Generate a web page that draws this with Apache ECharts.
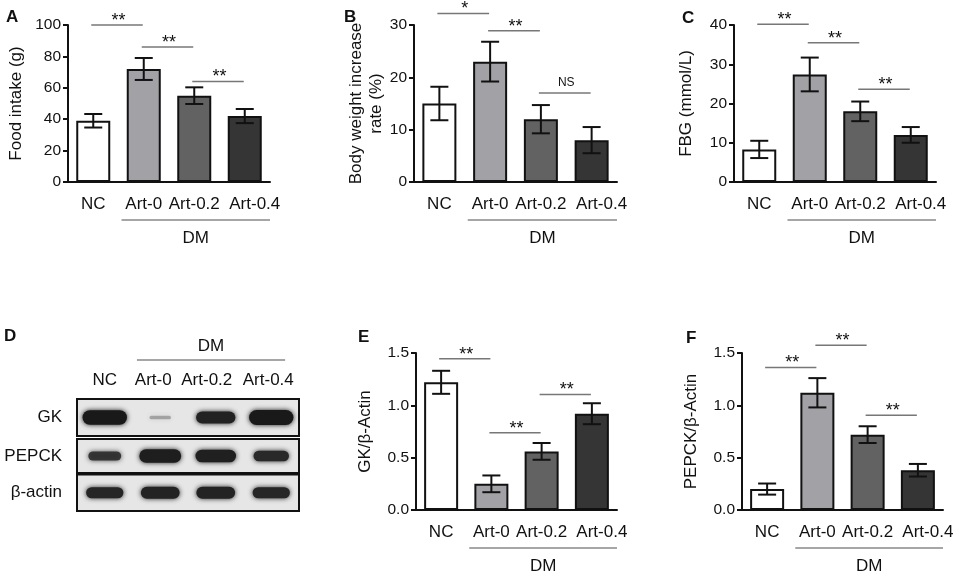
<!DOCTYPE html>
<html>
<head>
<meta charset="utf-8">
<script src="https://cdn.jsdelivr.net/npm/echarts@6/dist/echarts.min.js"></script>
<style>
  html, body { margin: 0; padding: 0; background: #fff; }
  #graph { width: 957px; height: 574px; }
</style>
</head>
<body>
<div id="graph"></div>
<script>
// groups
const groups = ['NC', 'Art-0', 'Art-0.2', 'Art-0.4']
const barColors = ['#ffffff', '#a2a2a6', '#626262', '#353535']

// A: food intake (g)
const foodMean = [39, 72, 55, 42]
const foodErr = [4.3, 7, 5.3, 4.5]
const foodSig = [[0, 1, 100], [1, 2, 86], [2, 3, 64]]
const foodSigText = ['**', '**', '**']

// B: body weight increase rate (%)
const weightMean = [15, 23, 12, 8]
const weightErr = [3.2, 3.8, 2.7, 2.5]
const weightSig = [[0, 1, 32.2], [1, 2, 28.9], [2, 3, 17]]
const weightSigText = ['*', '**', 'NS']

// C: FBG (mmol/L)
const fbgMean = [8.3, 27.4, 18, 12]
const fbgErr = [2.2, 4.3, 2.5, 2]
const fbgSig = [[0, 1, 40.2], [1, 2, 35.5], [2, 3, 23.6]]
const fbgSigText = ['**', '**', '**']

// E: GK / beta-actin
const gkMean = [1.22, 0.25, 0.56, 0.92]
const gkErr = [0.11, 0.08, 0.08, 0.1]
const gkSig = [[0, 1, 1.445], [1, 2, 0.737], [2, 3, 1.104]]
const gkSigText = ['**', '**', '**']

// F: PEPCK / beta-actin
const pepckMean = [0.2, 1.12, 0.72, 0.38]
const pepckErr = [0.053, 0.14, 0.08, 0.06]
const pepckSig = [[0, 1, 1.362], [1, 2, 1.573], [2, 3, 0.906]]
const pepckSigText = ['**', '**', '**']

// D: western blot band densities (relative)
const blotRows = ['GK', 'PEPCK', 'β-actin']
const gkBands = [1.0, 0.1, 0.8, 1.05]
const pepckBands = [0.55, 0.9, 0.85, 0.65]
const actinBands = [0.72, 0.78, 0.78, 0.72]

const FONT = "'Liberation Sans', Arial, Helvetica, sans-serif"
const INK = '#111'

const dom = document.getElementById('graph')
const chart = echarts.init(dom, null, { renderer: 'canvas' })

function errorRender (params, api) {
  const x = api.value(0)
  const lo = api.coord([x, api.value(1)])
  const hi = api.coord([x, api.value(2)])
  const hw = 9
  const style = { stroke: INK, lineWidth: 2 }
  return {
    type: 'group',
    children: [
      { type: 'line', shape: { x1: lo[0], y1: lo[1], x2: hi[0], y2: hi[1] }, style },
      { type: 'line', shape: { x1: hi[0] - hw, y1: hi[1], x2: hi[0] + hw, y2: hi[1] }, style },
      { type: 'line', shape: { x1: lo[0] - hw, y1: lo[1], x2: lo[0] + hw, y2: lo[1] }, style }
    ]
  }
}

function sigRender (labels) {
  return function (params, api) {
    const a = api.coord([api.value(0), api.value(2)])
    const b = api.coord([api.value(1), api.value(2)])
    const txt = labels[params.dataIndex]
    const isNS = txt === 'NS'
    return {
      type: 'group',
      children: [
        { type: 'line', shape: { x1: a[0] - 2, y1: a[1], x2: b[0] - 1, y2: b[1] }, style: { stroke: '#777', lineWidth: 1.5 } },
        {
          type: 'text',
          style: {
            text: txt,
            x: (a[0] + b[0]) / 2,
            y: a[1] - (isNS ? 10 : 4),
            align: 'center',
            verticalAlign: 'middle',
            font: (isNS ? '12px ' : '18px ') + FONT,
            fill: INK
          }
        }
      ]
    }
  }
}

// "DM" group bracket under categories 1..3
function dmRender (params, api) {
  const bw = api.size([1, 0])[0]
  const p1 = api.coord([1, 0])
  const p3 = api.coord([3, 0])
  const x1 = p1[0] - bw / 2 + 3
  const x2 = p3[0] + bw / 2
  const y = p1[1] + 38
  return {
    type: 'group',
    children: [
      { type: 'line', shape: { x1, y1: y, x2, y2: y }, style: { stroke: '#888', lineWidth: 1.5 } },
      { type: 'text', style: { text: 'DM', x: (x1 + x2) / 2, y: y + 18, align: 'center', verticalAlign: 'middle', font: '17px ' + FONT, fill: INK } }
    ]
  }
}

const grids = [
  { left: 68, top: 25, width: 202, height: 157 },   // A
  { left: 414, top: 25, width: 203, height: 157 },  // B
  { left: 734, top: 25, width: 202, height: 157 },  // C
  { left: 416, top: 353, width: 201, height: 157 }, // E
  { left: 742, top: 353, width: 201, height: 157 }  // F
]
const blotGrids = [
  { left: 77, top: 399, width: 222, height: 37 },
  { left: 77, top: 439, width: 222, height: 34 },
  { left: 77, top: 474.5, width: 222, height: 36.5 }
]

const panels = [
  { mean: foodMean, err: foodErr, sig: foodSig, sigText: foodSigText, max: 100, interval: 20, name: 'Food intake (g)', gap: 42, dec: 0 },
  { mean: weightMean, err: weightErr, sig: weightSig, sigText: weightSigText, max: 30, interval: 10, name: 'Body weight increase\nrate (%)', gap: 27, dec: 0 },
  { mean: fbgMean, err: fbgErr, sig: fbgSig, sigText: fbgSigText, max: 40, interval: 10, name: 'FBG (mmol/L)', gap: 38, dec: 0 },
  { mean: gkMean, err: gkErr, sig: gkSig, sigText: gkSigText, max: 1.5, interval: 0.5, name: 'GK/β-Actin', gap: 41, dec: 1 },
  { mean: pepckMean, err: pepckErr, sig: pepckSig, sigText: pepckSigText, max: 1.5, interval: 0.5, name: 'PEPCK/β-Actin', gap: 41, dec: 1 }
]

// the last label sits a little right of its slot, as in the figure
const barCats = groups.map((g, k) => k === 3 ? { value: g, textStyle: { padding: [0, 0, 0, 20] } } : g)
// lane labels above the blot are set a little left of the lanes
const laneShift = [0, 14, 18, 6]
const laneCats = groups.map((g, k) => ({ value: g, textStyle: { padding: [0, laneShift[k], 0, 0] } }))

const option = {
  animation: false,
  backgroundColor: '#fff',
  textStyle: { fontFamily: FONT },
  title: [
    { text: 'A', left: 1, top: 4 },
    { text: 'B', left: 339, top: 4 },
    { text: 'C', left: 677, top: 5 },
    { text: 'D', left: -1, top: 323 },
    { text: 'E', left: 353, top: 324 },
    { text: 'F', left: 681, top: 325 }
  ].map(t => Object.assign(t, { textStyle: { fontSize: 17, fontWeight: 'bold', color: INK, fontFamily: FONT } })),
  grid: grids.concat(blotGrids.map(g => Object.assign({}, g, {
    show: true, backgroundColor: '#e6e6e6', borderColor: INK, borderWidth: 2
  }))),
  xAxis: [],
  yAxis: [],
  series: []
}

panels.forEach((p, i) => {
  option.xAxis.push({
    type: 'category',
    gridIndex: i,
    data: barCats,
    axisLine: { lineStyle: { color: INK, width: 2 } },
    axisTick: { show: false },
    axisLabel: { interval: 0, margin: 14, fontSize: 17, color: INK, fontFamily: FONT }
  })
  option.yAxis.push({
    type: 'value',
    gridIndex: i,
    min: 0,
    max: p.max,
    interval: p.interval,
    splitLine: { show: false },
    axisLine: { show: true, lineStyle: { color: INK, width: 2 } },
    axisTick: { show: true, length: 5, lineStyle: { color: INK, width: 2 } },
    axisLabel: { margin: 7, fontSize: 15.5, color: INK, fontFamily: FONT, formatter: v => v.toFixed(p.dec) },
    name: p.name,
    nameLocation: 'middle',
    nameRotate: 90,
    nameGap: p.gap,
    nameTextStyle: { fontSize: 17, color: INK, fontFamily: FONT, lineHeight: 20 }
  })
  option.series.push({
    type: 'bar',
    xAxisIndex: i,
    yAxisIndex: i,
    barWidth: 34,
    data: p.mean.map((v, k) => ({ value: v, itemStyle: { color: barColors[k] } })),
    itemStyle: { borderColor: INK, borderWidth: 2 },
    z: 2
  })
  option.series.push({
    type: 'custom',
    xAxisIndex: i,
    yAxisIndex: i,
    renderItem: errorRender,
    data: p.mean.map((v, k) => [k, v - p.err[k], v + p.err[k]]),
    z: 3
  })
  option.series.push({
    type: 'custom',
    xAxisIndex: i,
    yAxisIndex: i,
    renderItem: sigRender(p.sigText),
    data: p.sig,
    z: 4
  })
  option.series.push({
    type: 'custom',
    xAxisIndex: i,
    yAxisIndex: i,
    renderItem: dmRender,
    data: [[1, 3]],
    z: 4
  })
})

// D: blot rows
const bandSets = [gkBands, pepckBands, actinBands]
function bandRender (params, api) {
  const c = api.coord([api.value(0), 0])
  const bw = api.size([1, 0])[0]
  const d = api.value(1)
  const w = bw * (0.34 + 0.46 * Math.min(d, 1))
  const h = 2.5 + 12 * d
  const alpha = Math.min(1, 0.25 + 1.2 * d)
  const g = Math.round(70 - 45 * Math.min(d, 1))
  const col = 'rgba(' + g + ',' + g + ',' + g + ',' + alpha + ')'
  return {
    type: 'rect',
    shape: { x: c[0] - w / 2, y: c[1] - h / 2, width: w, height: h, r: h / 2 },
    style: { fill: col, shadowBlur: 5, shadowColor: col }
  }
}

function blotDmRender (params, api) {
  const bw = api.size([1, 0])[0]
  const p1 = api.coord([1, 0])
  const p3 = api.coord([3, 0])
  const x1 = p1[0] - bw * 0.42
  const x2 = p3[0] + bw * 0.25
  const top = params.coordSys.y
  const y = top - 39
  return {
    type: 'group',
    children: [
      { type: 'line', shape: { x1, y1: y, x2, y2: y }, style: { stroke: '#888', lineWidth: 1.5 } },
      { type: 'text', style: { text: 'DM', x: (x1 + x2) / 2, y: y - 14, align: 'center', verticalAlign: 'middle', font: '17px ' + FONT, fill: INK } }
    ]
  }
}

blotRows.forEach((row, r) => {
  const gi = grids.length + r
  option.xAxis.push({
    type: 'category',
    gridIndex: gi,
    data: laneCats,
    position: 'top',
    show: r === 0,
    axisLine: { show: false },
    axisTick: { show: false },
    axisLabel: { interval: 0, margin: 10, fontSize: 17, color: INK, fontFamily: FONT }
  })
  option.yAxis.push({
    type: 'category',
    gridIndex: gi,
    data: [row],
    axisLine: { show: false },
    axisTick: { show: false },
    axisLabel: { margin: 15, fontSize: 17, color: INK, fontFamily: FONT }
  })
  option.series.push({
    type: 'custom',
    xAxisIndex: gi,
    yAxisIndex: gi,
    renderItem: bandRender,
    encode: { x: 0 },
    data: bandSets[r].map((d, k) => [k, d]),
    clip: true,
    z: 3
  })
})
option.series.push({
  type: 'custom',
  xAxisIndex: grids.length,
  yAxisIndex: grids.length,
  renderItem: blotDmRender,
  encode: { x: 0 },
  data: [[1, 3]],
  z: 4
})

chart.setOption(option, true)
</script>
</body>
</html>
